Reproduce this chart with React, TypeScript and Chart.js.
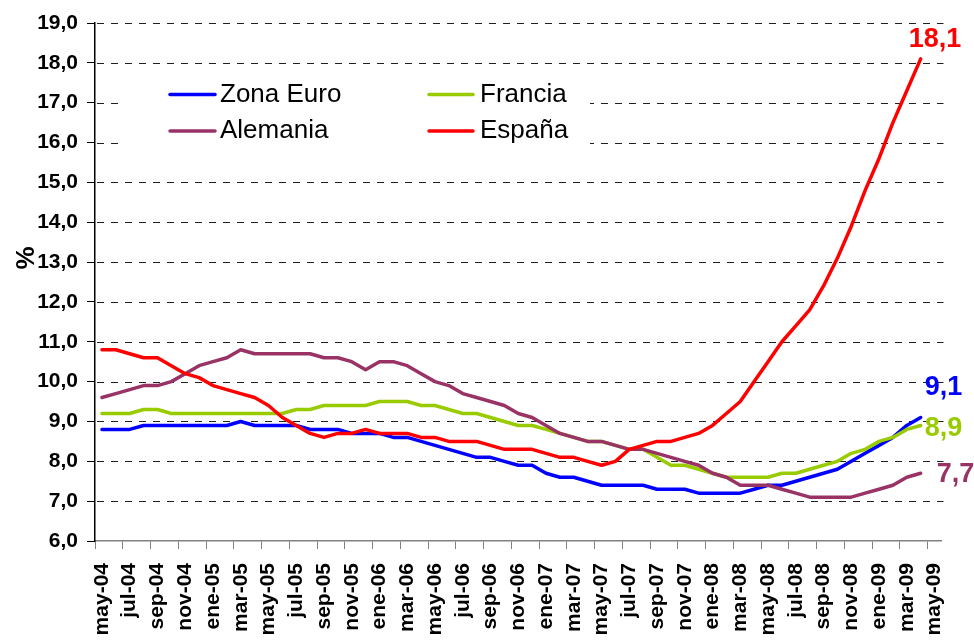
import React, { useEffect, useRef } from 'react';
import { Chart, registerables } from 'chart.js';

Chart.register(...registerables);

const monthLabels: string[] = [
  'may-04', 'jun-04', 'jul-04', 'ago-04', 'sep-04', 'oct-04', 'nov-04', 'dic-04',
  'ene-05', 'feb-05', 'mar-05', 'abr-05', 'may-05', 'jun-05', 'jul-05', 'ago-05', 'sep-05', 'oct-05', 'nov-05', 'dic-05',
  'ene-06', 'feb-06', 'mar-06', 'abr-06', 'may-06', 'jun-06', 'jul-06', 'ago-06', 'sep-06', 'oct-06', 'nov-06', 'dic-06',
  'ene-07', 'feb-07', 'mar-07', 'abr-07', 'may-07', 'jun-07', 'jul-07', 'ago-07', 'sep-07', 'oct-07', 'nov-07', 'dic-07',
  'ene-08', 'feb-08', 'mar-08', 'abr-08', 'may-08', 'jun-08', 'jul-08', 'ago-08', 'sep-08', 'oct-08', 'nov-08', 'dic-08',
  'ene-09', 'feb-09', 'mar-09', 'abr-09', 'may-09',
];

const zonaEuro: number[] = [
  8.8, 8.8, 8.8, 8.9, 8.9, 8.9, 8.9, 8.9, 8.9, 8.9, 9.0, 8.9, 8.9, 8.9, 8.9, 8.8, 8.8, 8.8, 8.7, 8.7,
  8.7, 8.6, 8.6, 8.5, 8.4, 8.3, 8.2, 8.1, 8.1, 8.0, 7.9, 7.9, 7.7, 7.6, 7.6, 7.5, 7.4, 7.4, 7.4, 7.4,
  7.3, 7.3, 7.3, 7.2, 7.2, 7.2, 7.2, 7.3, 7.4, 7.4, 7.5, 7.6, 7.7, 7.8, 8.0, 8.2, 8.4, 8.6, 8.9, 9.1,
];

const francia: number[] = [
  9.2, 9.2, 9.2, 9.3, 9.3, 9.2, 9.2, 9.2, 9.2, 9.2, 9.2, 9.2, 9.2, 9.2, 9.3, 9.3, 9.4, 9.4, 9.4, 9.4,
  9.5, 9.5, 9.5, 9.4, 9.4, 9.3, 9.2, 9.2, 9.1, 9.0, 8.9, 8.9, 8.8, 8.7, 8.6, 8.5, 8.5, 8.4, 8.3, 8.3,
  8.1, 7.9, 7.9, 7.8, 7.7, 7.6, 7.6, 7.6, 7.6, 7.7, 7.7, 7.8, 7.9, 8.0, 8.2, 8.3, 8.5, 8.6, 8.8, 8.9,
];

const alemania: number[] = [
  9.6, 9.7, 9.8, 9.9, 9.9, 10.0, 10.2, 10.4, 10.5, 10.6, 10.8, 10.7, 10.7, 10.7, 10.7, 10.7, 10.6, 10.6, 10.5, 10.3,
  10.5, 10.5, 10.4, 10.2, 10.0, 9.9, 9.7, 9.6, 9.5, 9.4, 9.2, 9.1, 8.9, 8.7, 8.6, 8.5, 8.5, 8.4, 8.3, 8.3,
  8.2, 8.1, 8.0, 7.9, 7.7, 7.6, 7.4, 7.4, 7.4, 7.3, 7.2, 7.1, 7.1, 7.1, 7.1, 7.2, 7.3, 7.4, 7.6, 7.7,
];

const espana: number[] = [
  10.8, 10.8, 10.7, 10.6, 10.6, 10.4, 10.2, 10.1, 9.9, 9.8, 9.7, 9.6, 9.4, 9.1, 8.9, 8.7, 8.6, 8.7, 8.7, 8.8,
  8.7, 8.7, 8.7, 8.6, 8.6, 8.5, 8.5, 8.5, 8.4, 8.3, 8.3, 8.3, 8.2, 8.1, 8.1, 8.0, 7.9, 8.0, 8.3, 8.4,
  8.5, 8.5, 8.6, 8.7, 8.9, 9.2, 9.5, 10.0, 10.5, 11.0, 11.4, 11.8, 12.4, 13.1, 13.9, 14.8, 15.6, 16.5, 17.3, 18.1,
];

const seriesNames = ['Zona Euro', 'Francia', 'Alemania', 'España'];
const seriesColors = ['#0000FF', '#99CC00', '#993366', '#FF0000'];
const seriesData = [zonaEuro, francia, alemania, espana];
const yTitle = '%';

const FONT = '"Liberation Sans", Arial, Helvetica, sans-serif';
const fmt = (v: number) => v.toFixed(1).replace('.', ',');

// end-label offsets relative to last point (dx, dy)
const endOffsets: Record<string, [number, number]> = {
  'Zona Euro': [4, -22],
  'Francia': [4, 11],
  'Alemania': [16, 9],
  'España': [-12, -12],
};

const DASH = 7;
const GAP = 7;

const overlayPlugin = {
  id: 'overlay',
  beforeDatasetsDraw(chart: any) {
    const ctx = chart.ctx;
    const area = chart.chartArea;
    const yScale = chart.scales.y;
    ctx.save();
    // dashed horizontal gridlines, drawn as separate segments
    ctx.fillStyle = '#202020';
    yScale.ticks.forEach((t: any) => {
      if (t.value <= yScale.min) return;
      const y = Math.round(yScale.getPixelForValue(t.value));
      for (let x = area.left + 2; x < area.right + 2; x += DASH + GAP) {
        const w = Math.min(DASH, area.right + 2 - x);
        ctx.fillRect(Math.round(x), y, w, 1);
      }
    });
    // legend box
    ctx.fillStyle = '#ffffff';
    ctx.fillRect(118, 70, 472, 90);
    const rows = [94.5, 131];
    const cols = [[170, 215, 220], [429, 473, 480]];
    seriesNames.forEach((name, i) => {
      const r = Math.floor(i / 2);
      const c = i % 2;
      const y = rows[r];
      ctx.strokeStyle = seriesColors[i];
      ctx.lineWidth = 3.5;
      ctx.lineCap = 'round';
      ctx.beginPath();
      ctx.moveTo(cols[c][0], y);
      ctx.lineTo(cols[c][1], y);
      ctx.stroke();
      ctx.fillStyle = '#000';
      ctx.font = `26px ${FONT}`;
      ctx.textAlign = 'left';
      ctx.textBaseline = 'middle';
      ctx.fillText(name, cols[c][2], y);
    });
    ctx.restore();
  },
  afterDatasetsDraw(chart: any) {
    const ctx = chart.ctx;
    ctx.save();
    chart.data.datasets.forEach((ds: any, di: number) => {
      const meta = chart.getDatasetMeta(di);
      const pts = meta.data;
      const last = pts[pts.length - 1];
      const val = ds.data[ds.data.length - 1];
      const off = endOffsets[ds.label] || [4, 0];
      ctx.fillStyle = ds.borderColor;
      ctx.font = `bold 27px ${FONT}`;
      ctx.textAlign = 'left';
      ctx.textBaseline = 'alphabetic';
      ctx.fillText(fmt(val), last.x + off[0], last.y + off[1]);
    });
    // y-axis title
    ctx.translate(27, 258);
    ctx.rotate(-Math.PI / 2);
    ctx.fillStyle = '#000';
    ctx.font = `bold 26px ${FONT}`;
    ctx.textAlign = 'center';
    ctx.textBaseline = 'middle';
    ctx.fillText(yTitle, 0, 0);
    ctx.restore();
  },
};

export default function App() {
  const ref = useRef<HTMLCanvasElement | null>(null);

  useEffect(() => {
    if (!ref.current) return;
    const order = [3, 2, 1, 0];
    const chart = new Chart(ref.current, {
      type: 'line',
      data: {
        labels: monthLabels,
        datasets: order.map((i) => ({
          label: seriesNames[i],
          data: seriesData[i],
          borderColor: seriesColors[i],
          backgroundColor: seriesColors[i],
          borderWidth: 3.5,
          pointRadius: 0,
          tension: 0,
          fill: false,
          borderCapStyle: 'round' as const,
          borderJoinStyle: 'round' as const,
        })),
      },
      options: {
        animation: false,
        responsive: false,
        maintainAspectRatio: false,
        layout: { padding: { top: 23, right: 31, left: 0, bottom: 0 } },
        plugins: {
          legend: { display: false },
          tooltip: { enabled: false },
          title: { display: false },
        },
        scales: {
          x: {
            type: 'category',
            offset: true,
            afterFit: (s: any) => { s.height = 100; },
            grid: {
              offset: true,
              drawOnChartArea: false,
              drawTicks: true,
              tickLength: 8,
              color: (c: any) => (c.index % 2 === 0 && c.index <= 60 ? '#808080' : 'rgba(0,0,0,0)'),
              tickColor: (c: any) => (c.index % 2 === 0 && c.index <= 60 ? '#808080' : 'rgba(0,0,0,0)'),
            },
            border: { display: true, color: '#808080', width: 1.5 },
            ticks: {
              autoSkip: false,
              maxRotation: 90,
              minRotation: 90,
              padding: 14,
              color: '#000',
              font: { family: FONT, size: 21, weight: 'bold' },
              callback: (_v: any, i: number) => (i % 2 === 0 ? monthLabels[i] : ''),
            },
          },
          y: {
            min: 6,
            max: 19,
            afterFit: (s: any) => { s.width = 95; },
            grid: {
              drawOnChartArea: false,
              drawTicks: true,
              tickLength: 8,
              lineWidth: 1,
              color: '#000000',
              tickColor: '#000000',
            },
            border: { display: true, color: '#000000', width: 1.5 },
            ticks: {
              stepSize: 1,
              padding: 9,
              color: '#000',
              font: { family: FONT, size: 21, weight: 'bold' },
              callback: (v: any) => fmt(Number(v)),
            },
          },
        },
      },
      plugins: [overlayPlugin],
    });
    return () => chart.destroy();
  }, []);

  return (
    <div style={{ position: 'fixed', left: 0, top: 0, width: 974, height: 641, background: '#ffffff' }}>
      <canvas ref={ref} width={974} height={641} style={{ display: 'block', width: 974, height: 641 }} />
    </div>
  );
}
